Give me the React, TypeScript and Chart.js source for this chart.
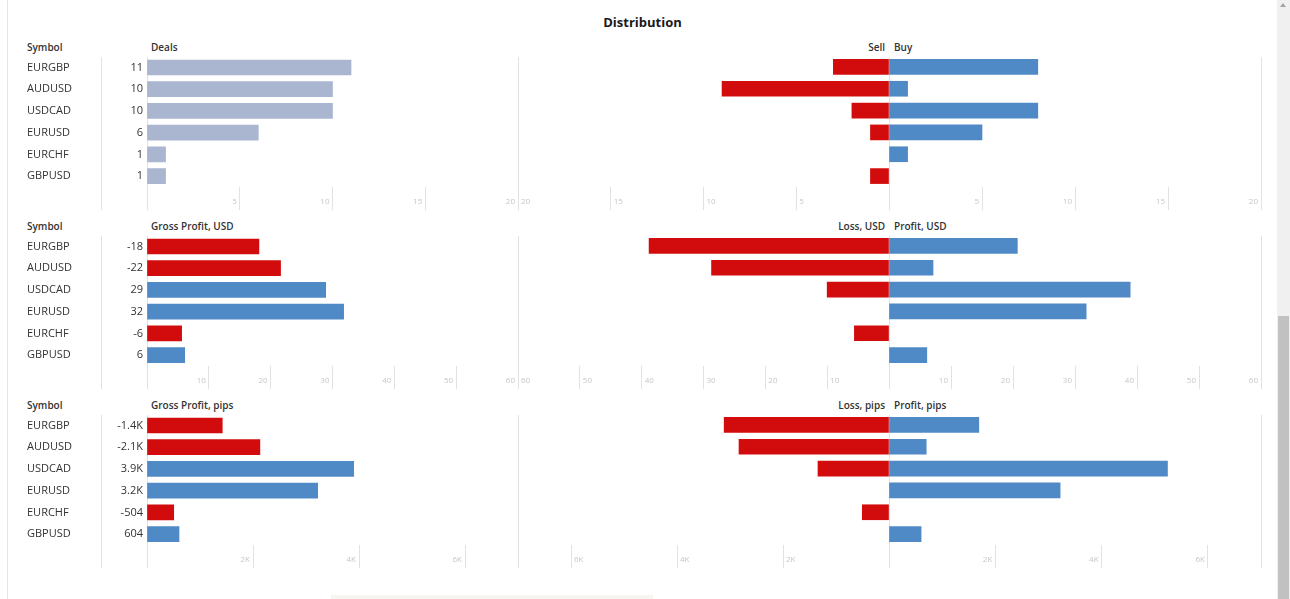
import React, { useEffect, useRef } from 'react';
import { Chart, registerables } from 'chart.js';

Chart.register(...registerables);

// ---------------- data ----------------
const symbols = ['EURGBP', 'AUDUSD', 'USDCAD', 'EURUSD', 'EURCHF', 'GBPUSD'];

const deals = [11, 10, 10, 6, 1, 1];
const sellDeals = [3, 9, 2, 1, 0, 1];
const buyDeals = [8, 1, 8, 5, 1, 0];

const grossUsd = [-18.1, -21.6, 28.9, 31.8, -5.6, 6.1];
const lossUsd = [38.8, 28.7, 10.0, 0, 5.6, 0];
const profitUsd = [20.7, 7.1, 38.9, 31.8, 0, 6.1];

const grossPips = [-1420, -2130, 3900, 3220, -504, 604];
const lossPips = [3110, 2830, 1340, 0, 504, 0];
const profitPips = [1690, 700, 5240, 3220, 0, 604];

const dealsAxis = { max: 20, step: 5 };
const usdAxis = { max: 60, step: 10 };
const pipsAxis = { max: 7000, step: 2000 };

const headers = [
  ['Symbol', 'Deals', 'Sell', 'Buy'],
  ['Symbol', 'Gross Profit, USD', 'Loss, USD', 'Profit, USD'],
  ['Symbol', 'Gross Profit, pips', 'Loss, pips', 'Profit, pips'],
];

// ---------------- style ----------------
const FONT = '"Open Sans", "DejaVu Sans", sans-serif';
const RED = '#D20C0C';
const BLUE = '#4F8AC6';
const GRAY = '#AAB6CF';
const GRID = '#e2e2e2';
const TICK_COLOR = '#c6c6c6';
const TEXT = '#333333';

const ROW_DY = 179;
const AREA_TOP = 56;
const AREA_BOTTOM = 187;
const TICK_BOTTOM = 210;
const X_SYM = 27;
const X_SEP = 101;
const X_LEFT0 = 147;
const X_MID = 518;
const X_CENTER = 889;
const X_RIGHT = 1261;

const fmtPlain = (v: number) => String(Math.round(v));
const fmtK = (v: number) => (v / 1000) + 'K';
const fmtPipsVal = (v: number) =>
  Math.abs(v) >= 1000 ? (v / 1000).toFixed(1) + 'K' : String(Math.round(v));

type Side = 'left' | 'sell' | 'buy';

interface PanelProps {
  row: number;
  side: Side;
  values: number[];
  colors: string[];
  max: number;
  step: number;
  tickFmt: (v: number) => string;
  valueLabels?: string[];
}

function Panel(p: PanelProps) {
  const ref = useRef<HTMLCanvasElement>(null);
  const dy = p.row * ROW_DY;
  const canvasTop = dy + AREA_TOP - 10;
  const canvasBottom = dy + TICK_BOTTOM + 6;
  const h = canvasBottom - canvasTop;
  const areaLeft = p.side === 'left' ? X_LEFT0 : p.side === 'sell' ? X_MID : X_CENTER;
  const areaRight = p.side === 'left' ? X_MID : p.side === 'sell' ? X_CENTER : X_RIGHT;
  const canvasLeft = p.side === 'left' ? 0 : areaLeft - 12;
  const w = areaRight + 12 - canvasLeft;

  useEffect(() => {
    const scales: any = {
      x: {
        type: 'linear',
        min: 0,
        max: p.max,
        reverse: p.side === 'sell',
        afterFit: (s: any) => {
          s.height = TICK_BOTTOM - AREA_BOTTOM;
        },
        afterBuildTicks: (s: any) => {
          const t: any[] = [];
          for (let v = 0; v <= p.max; v += p.step) t.push({ value: v });
          s.ticks = t;
        },
        grid: {
          display: true,
          drawOnChartArea: false,
          drawTicks: true,
          tickLength: TICK_BOTTOM - AREA_BOTTOM,
          color: GRID,
          lineWidth: 1,
        },
        border: { display: false },
        ticks: {
          stepSize: p.step,
          includeBounds: false,
          autoSkip: false,
          maxRotation: 0,
          minRotation: 0,
          align: p.side === 'sell' ? 'start' : 'end',
          labelOffset: p.side === 'sell' ? 3 : -3,
          padding: -13,
          color: TICK_COLOR,
          font: { family: FONT, size: 8 },
          callback: (v: any) => (Number(v) === 0 ? '' : p.tickFmt(Number(v))),
        },
      },
    };
    if (p.side === 'left') {
      scales.ySym = {
        type: 'category',
        labels: symbols,
        position: 'left',
        weight: 2,
        offset: true,
        afterFit: (s: any) => {
          s.width = X_SEP - X_SYM;
        },
        grid: { display: false, drawTicks: false },
        border: { display: false },
        ticks: {
          crossAlign: 'far',
          padding: 0,
          autoSkip: false,
          color: TEXT,
          font: { family: FONT, size: 11 },
        },
      };
      scales.yVal = {
        type: 'category',
        labels: p.valueLabels,
        position: 'left',
        weight: 1,
        offset: true,
        afterFit: (s: any) => {
          s.width = X_LEFT0 - X_SEP;
        },
        grid: { display: false, drawTicks: false },
        border: { display: false },
        ticks: {
          padding: 4,
          autoSkip: false,
          color: TEXT,
          font: { family: FONT, size: 11 },
        },
      };
    } else {
      scales.ySym = {
        type: 'category',
        labels: symbols,
        position: 'left',
        display: false,
        offset: true,
      };
    }
    const chart = new Chart(ref.current as HTMLCanvasElement, {
      type: 'bar',
      data: {
        labels: symbols,
        datasets: [
          {
            // zero values draw no bar at all
            data: p.values.map((v) => (v === 0 ? null : v)),
            backgroundColor: p.colors,
            borderWidth: 0,
            barThickness: 15,
            yAxisID: 'ySym',
            xAxisID: 'x',
          } as any,
        ],
      },
      options: {
        indexAxis: 'y',
        animation: false,
        responsive: false,
        devicePixelRatio: 1,
        layout: {
          padding: {
            top: AREA_TOP + dy - canvasTop,
            bottom: canvasBottom - (TICK_BOTTOM + dy),
            left: p.side === 'left' ? X_SYM : 12,
            right: 12,
          },
        },
        plugins: {
          legend: { display: false },
          tooltip: { enabled: false },
          title: { display: false },
        },
        scales,
      } as any,
    });
    return () => chart.destroy();
  }, []);

  return (
    <canvas
      ref={ref}
      width={w}
      height={h}
      style={{ position: 'absolute', left: canvasLeft, top: canvasTop, width: w, height: h }}
    />
  );
}

function VLine({ x, y1, y2, color }: { x: number; y1: number; y2: number; color?: string }) {
  return (
    <div
      style={{
        position: 'absolute',
        left: x,
        top: y1,
        width: 1,
        height: y2 - y1,
        background: color || GRID,
      }}
    />
  );
}

function Label({ x, y, text, align }: { x: number; y: number; text: string; align?: 'left' | 'right' }) {
  const style: any = {
    position: 'absolute',
    top: y - 8,
    height: 16,
    lineHeight: '16px',
    fontFamily: FONT,
    fontSize: 10,
    fontWeight: 600,
    color: TEXT,
    whiteSpace: 'nowrap',
  };
  if (align === 'right') style.right = 1290 - x;
  else style.left = x;
  return <div style={style}>{text}</div>;
}

export default function App() {
  const signColors = (arr: number[]) => arr.map((v) => (v < 0 ? RED : BLUE));
  const abs = (arr: number[]) => arr.map((v) => Math.abs(v));

  const rows = [
    {
      left: deals,
      leftColors: deals.map(() => GRAY),
      valueLabels: deals.map((v) => String(v)),
      sell: sellDeals,
      buy: buyDeals,
      axis: dealsAxis,
      tickFmt: fmtPlain,
    },
    {
      left: abs(grossUsd),
      leftColors: signColors(grossUsd),
      valueLabels: grossUsd.map(fmtPlain),
      sell: lossUsd,
      buy: profitUsd,
      axis: usdAxis,
      tickFmt: fmtPlain,
    },
    {
      left: abs(grossPips),
      leftColors: signColors(grossPips),
      valueLabels: grossPips.map(fmtPipsVal),
      sell: lossPips,
      buy: profitPips,
      axis: pipsAxis,
      tickFmt: fmtK,
    },
  ];

  return (
    <div
      style={{
        position: 'fixed',
        left: 0,
        top: 0,
        width: 1290,
        height: 599,
        overflow: 'hidden',
        background: '#ffffff',
        fontFamily: FONT,
      }}
    >
      {/* page frame */}
      <VLine x={7} y1={0} y2={599} color="#e6e6e6" />
      <div
        style={{
          position: 'absolute',
          left: 8,
          width: 1269,
          top: 12,
          height: 20,
          lineHeight: '20px',
          textAlign: 'center',
          fontFamily: FONT,
          fontWeight: 700,
          fontSize: 13,
          color: '#1a1a1a',
        }}
      >
        Distribution
      </div>

      {rows.map((r, i) => {
        const dy = i * ROW_DY;
        return (
          <React.Fragment key={i}>
            {[X_SEP, X_LEFT0, X_MID, X_CENTER, X_RIGHT].map((x) => (
              <VLine key={x} x={x} y1={AREA_TOP + 1 + dy} y2={TICK_BOTTOM + dy} />
            ))}
            <Label x={X_SYM} y={47 + dy} text={headers[i][0]} />
            <Label x={X_LEFT0 + 4} y={47 + dy} text={headers[i][1]} />
            <Label x={X_CENTER - 4} y={47 + dy} text={headers[i][2]} align="right" />
            <Label x={X_CENTER + 5} y={47 + dy} text={headers[i][3]} />
            <Panel
              row={i}
              side="left"
              values={r.left}
              colors={r.leftColors}
              max={r.axis.max}
              step={r.axis.step}
              tickFmt={r.tickFmt}
              valueLabels={r.valueLabels}
            />
            <Panel
              row={i}
              side="sell"
              values={r.sell}
              colors={r.sell.map(() => RED)}
              max={r.axis.max}
              step={r.axis.step}
              tickFmt={r.tickFmt}
            />
            <Panel
              row={i}
              side="buy"
              values={r.buy}
              colors={r.buy.map(() => BLUE)}
              max={r.axis.max}
              step={r.axis.step}
              tickFmt={r.tickFmt}
            />
          </React.Fragment>
        );
      })}

      {/* faint element at the bottom */}
      <div style={{ position: 'absolute', left: 331, top: 595, width: 322, height: 4, background: '#f6f5f0' }} />

      {/* scrollbar */}
      <div style={{ position: 'absolute', left: 1277, top: 0, width: 13, height: 599, background: '#f0f0f0' }} />
      <div
        style={{
          position: 'absolute',
          left: 1280,
          top: 3,
          width: 0,
          height: 0,
          borderLeft: '3.5px solid transparent',
          borderRight: '3.5px solid transparent',
          borderBottom: '4px solid #a3a3a3',
        }}
      />
      <div style={{ position: 'absolute', left: 1278, top: 316, width: 11, height: 283, background: '#c1c1c1' }} />
    </div>
  );
}
